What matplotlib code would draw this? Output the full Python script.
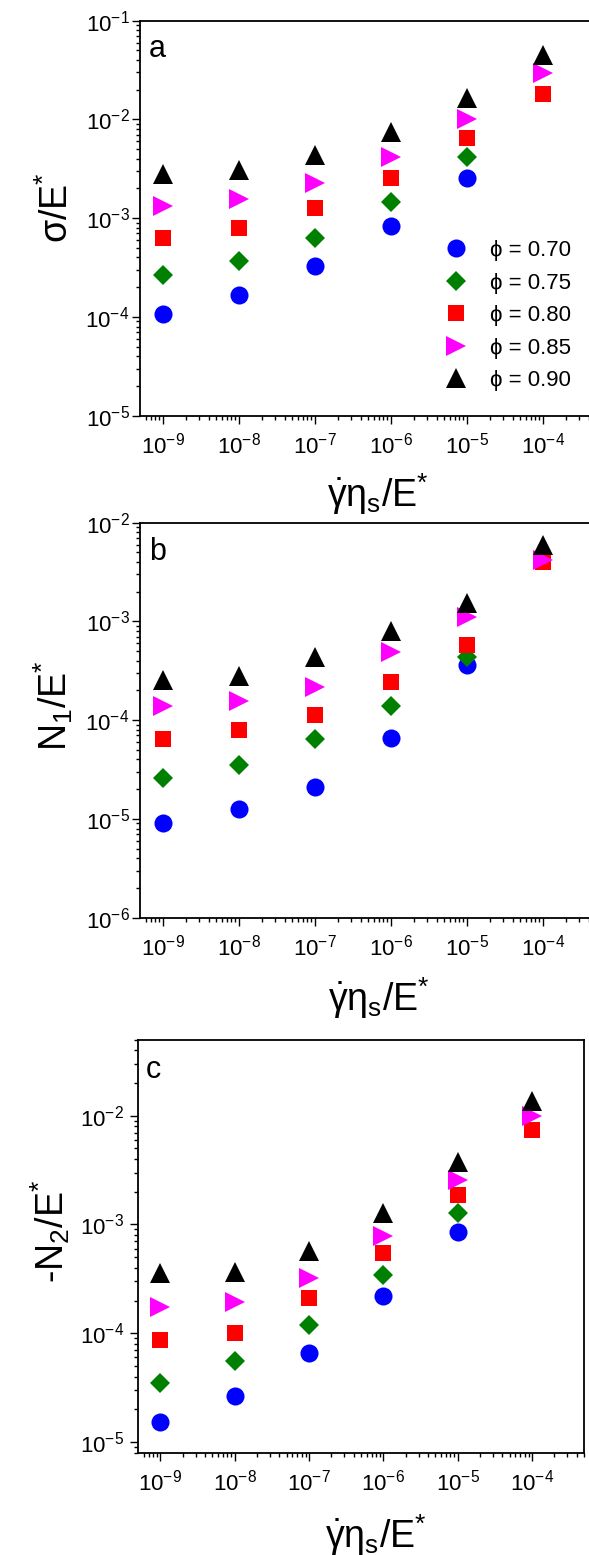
import matplotlib
matplotlib.use('Agg')
import matplotlib.pyplot as plt
import numpy as np
from matplotlib.ticker import LogLocator, FixedLocator, NullFormatter

plt.rcParams['font.family'] = ['Liberation Sans', 'DejaVu Sans']
plt.rcParams['mathtext.fontset'] = 'custom'
plt.rcParams['mathtext.rm'] = 'Liberation Sans'
plt.rcParams['mathtext.it'] = 'Liberation Sans'
plt.rcParams['mathtext.sf'] = 'Liberation Sans'
plt.rcParams['mathtext.default'] = 'rm'
plt.rcParams['axes.unicode_minus'] = False

# shear rate (gamma_dot * eta_s / E*)
rate = [1e-9, 1e-8, 1e-7, 1e-6, 1e-5, 1e-4]
phi_labels = ['ϕ = 0.70', 'ϕ = 0.75', 'ϕ = 0.80', 'ϕ = 0.85', 'ϕ = 0.90']

# panel a: sigma / E*
sig_070 = [1.06e-4, 1.65e-4, 3.27e-4, 8.3e-4, 2.57e-3]
sig_075 = [2.69e-4, 3.67e-4, 6.33e-4, 1.47e-3, 4.19e-3]
sig_080 = [6.23e-4, 7.87e-4, 1.26e-3, 2.53e-3, 6.53e-3, 1.80e-2]
sig_085 = [1.33e-3, 1.56e-3, 2.29e-3, 4.19e-3, 1.02e-2, 2.93e-2]
sig_090 = [2.82e-3, 3.07e-3, 4.32e-3, 7.40e-3, 1.64e-2, 4.46e-2]

# panel b: N1 / E*
n1_070 = [9.2e-6, 1.25e-5, 2.12e-5, 6.68e-5, 3.60e-4]
n1_075 = [2.59e-5, 3.51e-5, 6.38e-5, 1.38e-4, 4.33e-4]
n1_080 = [6.38e-5, 7.93e-5, 1.14e-4, 2.46e-4, 5.82e-4, 4.04e-3]
n1_085 = [1.38e-4, 1.56e-4, 2.17e-4, 4.90e-4, 1.10e-3, 4.20e-3]
n1_090 = [2.56e-4, 2.79e-4, 4.37e-4, 8.0e-4, 1.53e-3, 5.9e-3]

# panel c: -N2 / E*
n2_070 = [1.52e-5, 2.63e-5, 6.61e-5, 2.19e-4, 8.61e-4]
n2_075 = [3.48e-5, 5.56e-5, 1.19e-4, 3.42e-4, 1.28e-3]
n2_080 = [8.69e-5, 1.00e-4, 2.11e-4, 5.47e-4, 1.88e-3, 7.38e-3]
n2_085 = [1.76e-4, 1.94e-4, 3.25e-4, 7.9e-4, 2.54e-3, 1.0e-2]
n2_090 = [3.57e-4, 3.68e-4, 5.75e-4, 1.28e-3, 3.75e-3, 1.35e-2]

# y tick decades per panel
yticks_a = [1e-5, 1e-4, 1e-3, 1e-2, 1e-1]
yticks_b = [1e-6, 1e-5, 1e-4, 1e-3, 1e-2]
yticks_c = [1e-5, 1e-4, 1e-3, 1e-2]

colors = ['#0000ff', '#008000', '#ff0000', '#ff00ff', '#000000']
markers = ['o', 'D', 's', '>', '^']
msizes = [13, 10.5, 12, 14, 14.5]

W, H = 589, 1555
fig = plt.figure(figsize=(W / 100, H / 100), dpi=100)


def box(l, t, r, b):
    return [l / W, 1 - b / H, (r - l) / W, (b - t) / H]


def style(ax, ylim, yticks, ypad):
    ax.set_xscale('log')
    ax.set_yscale('log')
    ax.set_xlim(10 ** -9.3, 10 ** -3.3)
    ax.set_ylim(*ylim)
    for s in ax.spines.values():
        s.set_linewidth(1.3)
    ax.xaxis.set_major_locator(FixedLocator(rate))
    ax.yaxis.set_major_locator(FixedLocator(yticks))
    ax.xaxis.set_minor_locator(LogLocator(base=10, subs=np.arange(2, 10), numticks=12))
    ax.yaxis.set_minor_locator(LogLocator(base=10, subs=np.arange(2, 10), numticks=12))
    ax.xaxis.set_minor_formatter(NullFormatter())
    ax.yaxis.set_minor_formatter(NullFormatter())
    ax.tick_params(which='both', direction='out', top=False, right=False, width=1.0)
    ax.tick_params(which='major', length=6, labelsize=16)
    ax.tick_params(which='minor', length=3)
    ax.tick_params(axis='x', which='major', pad=6)
    ax.tick_params(axis='y', which='major', pad=ypad)


def draw(ax, series):
    for ys, c, m, ms, lab in zip(series, colors, markers, msizes, phi_labels):
        ax.plot(rate[:len(ys)], ys, linestyle='none', marker=m, ms=ms,
                color=c, markeredgewidth=0, label=lab)


ax_a = fig.add_axes(box(140, 20.7, 596, 415.7))
style(ax_a, (1e-5, 1e-1), yticks_a, 1.5)
draw(ax_a, [sig_070, sig_075, sig_080, sig_085, sig_090])
ax_a.set_ylabel(r'σ/E$^{*}$', fontsize=27)
ax_a.yaxis.set_label_coords(-0.140, 0.527)
ax_a.text(0.02, 0.908, 'a', transform=ax_a.transAxes, fontsize=22, va='baseline')
ax_a.legend(loc='upper left', bbox_to_anchor=(445 / W, 1 - 240 / H),
            bbox_transform=fig.transFigure, frameon=False, fontsize=16,
            handlelength=1.0, handletextpad=1.04, labelspacing=0.52,
            borderpad=0, borderaxespad=0, numpoints=1)

ax_b = fig.add_axes(box(140, 522.7, 596, 917.7))
style(ax_b, (1e-6, 1e-2), yticks_b, 1.5)
draw(ax_b, [n1_070, n1_075, n1_080, n1_085, n1_090])
ax_b.set_ylabel(r'N$_{1}$/E$^{*}$', fontsize=27)
ax_b.yaxis.set_label_coords(-0.143, 0.536)
ax_b.text(0.02, 0.906, 'b', transform=ax_b.transAxes, fontsize=22, va='baseline')

ax_c = fig.add_axes(box(138, 1039.5, 584, 1453))
style(ax_c, (10 ** -5.1, 10 ** -1.3), yticks_c, 4)
draw(ax_c, [n2_070, n2_075, n2_080, n2_085, n2_090])
ax_c.set_ylabel(r'-N$_{2}$/E$^{*}$', fontsize=27)
ax_c.yaxis.set_label_coords(-0.148, 0.535)
ax_c.text(0.018, 0.907, 'c', transform=ax_c.transAxes, fontsize=22, va='baseline')

xlab = r'$\dot{\gamma}\eta_{s}$/E$^{*}$'
for ax, xy in [(ax_a, (0.522, -0.140)), (ax_b, (0.523, -0.145)), (ax_c, (0.534, -0.143))]:
    ax.set_xlabel(xlab, fontsize=27)
    ax.xaxis.set_label_coords(*xy)

fig.savefig('out.png', dpi=100)
